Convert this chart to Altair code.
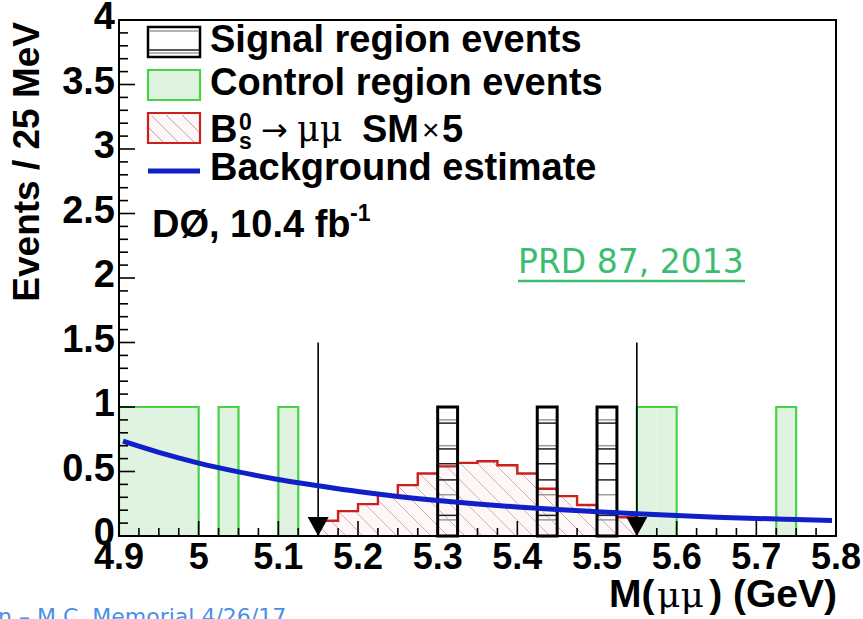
import altair as alt
import pandas as pd

# ---------------- data ----------------
BIN_W = 0.025
bin_low = [round(4.9 + BIN_W * i, 3) for i in range(36)]

control_counts = [1, 1, 1, 1, 0, 1, 0, 0, 1,
                  0, 0, 0, 0, 0, 0, 0, 0, 0, 0, 0, 0, 0, 0, 0, 0, 0,
                  1, 1, 0, 0, 0, 0, 0, 1, 0, 0]
signal_counts = [0] * 16 + [1] + [0] * 4 + [1] + [0, 0] + [1] + [0] * 11
bs_sm_x5 = [0] * 10 + [0.118, 0.193, 0.247, 0.317, 0.394, 0.485, 0.540, 0.567,
                      0.580, 0.549, 0.485, 0.366, 0.309, 0.240, 0.190, 0.145] + [0] * 10

bkg_mass = [4.905, 4.95, 5.0, 5.05, 5.1, 5.15, 5.2, 5.25, 5.3, 5.35, 5.4,
            5.45, 5.5, 5.55, 5.6, 5.65, 5.7, 5.75, 5.795]
bkg_est = [0.735, 0.648, 0.565, 0.497, 0.438, 0.390, 0.345, 0.307, 0.275, 0.248,
           0.225, 0.205, 0.188, 0.172, 0.158, 0.146, 0.136, 0.128, 0.121]

window_edges = [5.15, 5.55]
window_arrow_top = 1.5

x_labels = [4.9, 5.0, 5.1, 5.2, 5.3, 5.4, 5.5, 5.6, 5.7, 5.8]
x_label_text = ["4.9", "5", "5.1", "5.2", "5.3", "5.4", "5.5", "5.6", "5.7", "5.8"]
y_labels = [0, 0.5, 1, 1.5, 2, 2.5, 3, 3.5, 4]
y_label_text = ["0", "0.5", "1", "1.5", "2", "2.5", "3", "3.5", "4"]

# signal-box horizontal hatch levels (decoration)
hatch_dark = [0.16, 0.435, 0.56, 0.675, 0.875]
hatch_light = [0.125, 0.32, 0.70, 0.90]

# ---------------- layout ----------------
W, H = 717, 516
OX, OY = 119, 20
XD = [4.9, 5.8]
YD = [0, 4]
xs = alt.Scale(domain=XD, nice=False, zero=False)
ys = alt.Scale(domain=YD, nice=False, zero=False)
BOLD = "Liberation Sans"

hist = pd.DataFrame({
    "lo": bin_low,
    "hi": [round(b + BIN_W, 3) for b in bin_low],
    "control": control_counts,
    "signal": signal_counts,
    "bs": bs_sm_x5,
    "zero": 0.0,
})


def step_points(lo, vals, w):
    pts = [(lo[0], 0.0)] + [(l, v) for l, v in zip(lo, vals)] + [(round(lo[-1] + w, 3), 0.0)]
    return pd.DataFrame({"x": [p[0] for p in pts], "y": [p[1] for p in pts],
                         "i": list(range(len(pts)))})


ctrl_step = step_points(bin_low, control_counts, BIN_W)
bs_idx = [i for i, v in enumerate(bs_sm_x5) if v > 0]
bs_step = step_points([bin_low[i] for i in bs_idx], [bs_sm_x5[i] for i in bs_idx], BIN_W)


def px(x):
    return (x - XD[0]) / (XD[1] - XD[0]) * W


def py(v):
    return H - v / YD[1] * H


def inv_x(p):
    return XD[0] + p / W * (XD[1] - XD[0])


def inv_y(p):
    return (H - p) / H * YD[1]


# diagonal hatch for the Bs histogram, computed from its bins
SP = 17
segs = []
for i in bs_idx:
    p0, p1 = px(bin_low[i]), px(bin_low[i] + BIN_W)
    pt = py(bs_sm_x5[i])
    k0 = int((p0 - H) // SP) - 1
    k1 = int((p1 - pt) // SP) + 2
    for k in range(k0, k1):
        c = k * SP
        a = max(p0, pt + c)
        b = min(p1, H + c)
        if b > a:
            segs.append({"x1": inv_x(a), "y1": inv_y(a - c), "x2": inv_x(b), "y2": inv_y(b - c)})
hatch = pd.DataFrame(segs)

sig_rows = []
for lo, hi, n in zip(hist["lo"], hist["hi"], signal_counts):
    if n > 0:
        for lv in hatch_dark:
            sig_rows.append({"lo": lo, "hi": hi, "lv": lv, "c": "#222222"})
        for lv in hatch_light:
            sig_rows.append({"lo": lo, "hi": hi, "lv": lv, "c": "#9a9a9a"})
sig_hatch = pd.DataFrame(sig_rows)

x_edges = [round(4.9 + BIN_W * i, 3) for i in range(37)]
x_major = pd.DataFrame({"v": x_labels, "t": x_label_text})
x_minor = pd.DataFrame({"v": [e for e in x_edges if round(e * 40) % 4 != 0]})
y_all = [round(0.1 * i, 1) for i in range(41)]
y_major = pd.DataFrame({"v": y_labels, "t": y_label_text})
y_minor = pd.DataFrame({"v": [v for v in y_all if round(v * 10) % 5 != 0]})

arrows = pd.DataFrame({"x": window_edges, "top": [window_arrow_top] * 2, "zero": [0.0] * 2})
bkg = pd.DataFrame({"m": bkg_mass, "n": bkg_est})
one = pd.DataFrame({"a": [0]})

GREEN = "#44d444"
GREEN_FILL = "#e0f3e0"
RED = "#cc2020"
BLUE = "#1020c8"
HATCH = "#c4a0a0"


def X(f):
    return alt.X(f, scale=xs, axis=None)


def Y(f):
    return alt.Y(f, scale=ys, axis=None)


layers = []

layers.append(
    alt.Chart(hist).transform_filter("datum.control > 0").mark_rect(fill=GREEN_FILL, strokeWidth=0).encode(
        x=X("lo:Q"), x2="hi:Q", y=Y("control:Q"), y2="zero:Q")
)
layers.append(
    alt.Chart(hist).transform_filter("datum.bs > 0").mark_rect(fill="#fdf7f7", strokeWidth=0).encode(
        x=X("lo:Q"), x2="hi:Q", y=Y("bs:Q"), y2="zero:Q")
)
layers.append(
    alt.Chart(hatch).mark_rule(color=HATCH, strokeWidth=0.9, opacity=0.9).encode(
        x=X("x1:Q"), x2="x2:Q", y=Y("y1:Q"), y2="y2:Q")
)
layers.append(
    alt.Chart(ctrl_step).mark_line(interpolate="step-after", color=GREEN, strokeWidth=2.2).encode(
        x=X("x:Q"), y=Y("y:Q"), order="i:Q")
)
layers.append(
    alt.Chart(bs_step).mark_line(interpolate="step-after", color=RED, strokeWidth=2.4).encode(
        x=X("x:Q"), y=Y("y:Q"), order="i:Q")
)
layers.append(
    alt.Chart(sig_hatch).mark_rule(strokeWidth=1.5).encode(
        x=X("lo:Q"), x2="hi:Q", y=Y("lv:Q"), color=alt.Color("c:N", scale=None))
)
layers.append(
    alt.Chart(hist).transform_filter("datum.signal > 0").mark_rect(
        fillOpacity=0, stroke="black", strokeWidth=3).encode(
        x=X("lo:Q"), x2="hi:Q", y=Y("signal:Q"), y2="zero:Q")
)
layers.append(
    alt.Chart(arrows).mark_rule(color="black", strokeWidth=1.6).encode(
        x=X("x:Q"), y=Y("top:Q"), y2="zero:Q")
)
layers.append(
    alt.Chart(arrows).mark_point(shape="M-1,-0.9L1,-0.9L0,0.9Z", size=441, filled=True,
                                 color="black", opacity=1, yOffset=-9.5).encode(
        x=X("x:Q"), y=Y("zero:Q"))
)
layers.append(
    alt.Chart(bkg).mark_line(color=BLUE, strokeWidth=5, interpolate="monotone").encode(
        x=X("m:Q"), y=Y("n:Q"))
)
# inward ticks
layers.append(alt.Chart(x_major).mark_rule(color="black", strokeWidth=1.6).encode(
    x=X("v:Q"), y=alt.value(H), y2=alt.value(H - 15)))
layers.append(alt.Chart(x_minor).mark_rule(color="black", strokeWidth=1.6).encode(
    x=X("v:Q"), y=alt.value(H), y2=alt.value(H - 8)))
layers.append(alt.Chart(y_major).mark_rule(color="black", strokeWidth=1.6).encode(
    y=Y("v:Q"), x=alt.value(0), x2=alt.value(16)))
layers.append(alt.Chart(y_minor).mark_rule(color="black", strokeWidth=1.6).encode(
    y=Y("v:Q"), x=alt.value(0), x2=alt.value(9)))
# frame
layers.append(alt.Chart(one).mark_rect(fillOpacity=0, stroke="black", strokeWidth=2).encode(
    x=alt.value(0), x2=alt.value(W), y=alt.value(0), y2=alt.value(H)))
# tick labels
layers.append(alt.Chart(x_major).mark_text(font=BOLD, fontWeight="bold", fontSize=36, color="black",
                                           align="center", baseline="alphabetic").encode(
    x=X("v:Q"), y=alt.value(H + 33), text="t:N"))
layers.append(alt.Chart(y_major).mark_text(font=BOLD, fontWeight="bold", fontSize=38, color="black",
                                           align="right", baseline="middle", dy=-2).encode(
    y=Y("v:Q"), x=alt.value(-4), text="t:N"))


def txt(s, x, y, size=38, weight="bold", font=BOLD, color="black", align="left",
        baseline="alphabetic", angle=None):
    props = dict(text=s, font=font, fontSize=size, fontWeight=weight, color=color,
                 align=align, baseline=baseline)
    if angle is not None:
        props["angle"] = angle
    return alt.Chart(one).mark_text(**props).encode(x=alt.value(x - OX), y=alt.value(y - OY))


def box(x0, y0, x1, y1, fill, stroke, sw):
    return alt.Chart(one).mark_rect(fill=fill, stroke=stroke, strokeWidth=sw).encode(
        x=alt.value(x0 - OX), x2=alt.value(x1 - OX), y=alt.value(y0 - OY), y2=alt.value(y1 - OY))


def seg(x0, y0, x1, y1, color, sw):
    return alt.Chart(one).mark_rule(color=color, strokeWidth=sw).encode(
        x=alt.value(x0 - OX), x2=alt.value(x1 - OX), y=alt.value(y0 - OY), y2=alt.value(y1 - OY))


layers += [
    box(148, 27, 200, 57, "white", "black", 2.5),
    seg(149, 31, 199, 31, "#9a9a9a", 1.4),
    seg(149, 50, 199, 50, "#222222", 1.4),
    seg(149, 53, 199, 53, "#9a9a9a", 1.4),
    box(148, 70, 200, 100, GREEN_FILL, GREEN, 2.2),
    box(148, 113, 200, 143, "#fdf7f7", RED, 2.2),
    seg(152, 116, 178, 142, HATCH, 1),
    seg(166, 115, 194, 142, HATCH, 1),
    seg(182, 115, 199, 132, HATCH, 1),
    seg(149, 128, 163, 142, HATCH, 1),
    seg(148, 171, 200, 171, BLUE, 5),
    txt("Signal region events", 210, 52),
    txt("Control region events", 210, 95),
    txt("B", 210, 142),
    txt("0", 239, 130, size=23),
    txt("s", 239, 149, size=23),
    txt("\u2192", 261, 141, size=32, weight="normal", font="DejaVu Sans"),
    txt("\u03bc\u03bc", 297, 141, size=35, weight="normal", font="DejaVu Serif"),
    txt("SM", 362, 142),
    txt("\u00d7", 422, 140, size=30, weight="normal", font="Liberation Sans"),
    txt("5", 442, 142),
    txt("Background estimate", 210, 180),
    txt("D\u00d8, 10.4 fb", 152, 237),
    txt("-1", 350, 221, size=23),
    txt("PRD 87, 2013", 518, 273, size=33, weight="normal", font="DejaVu Sans", color="#3dbd6f"),
    seg(518, 281, 745, 281, "#3dbd6f", 2.5),
    txt("Events / 25 MeV", 28, 22, size=37, align="right", baseline="middle", angle=270),
    txt("M(", 609, 607, size=39),
    txt("\u03bc\u03bc", 657, 607, size=36, weight="normal", font="DejaVu Serif"),
    txt(") (GeV)", 837, 607, size=39, align="right"),
    txt("n \u2013 M.C. Memorial 4/26/17", -2, 624, size=22, weight="normal",
        font="DejaVu Sans", color="#4a8fe8"),
]

chart = alt.layer(*layers).properties(
    width=W, height=H,
    autosize=alt.AutoSizeParams(type="none"),
    padding={"left": OX, "top": OY, "right": 863 - OX - W, "bottom": 619 - OY - H},
    background="white",
).configure_view(stroke=None)

chart.save("out.html", embed_options={"renderer": "svg", "actions": False})
